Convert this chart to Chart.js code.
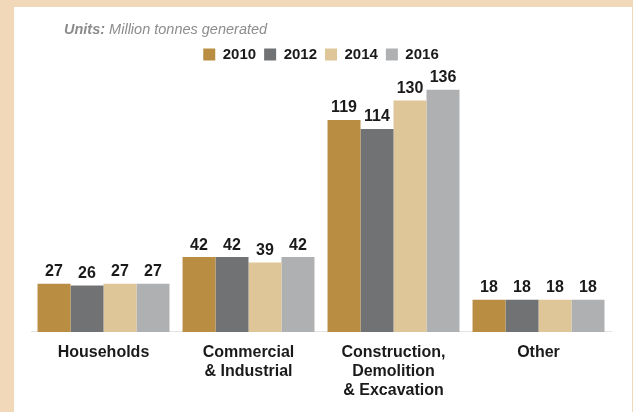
<!DOCTYPE html>
<html>
<head>
<meta charset="utf-8">
<script src="https://cdn.jsdelivr.net/npm/chart.js@4.4.1/dist/chart.umd.min.js"></script>
<style>
  html, body { margin: 0; padding: 0; background: #f0d8b8; }
  #panel {
    position: absolute; left: 14px; top: 7px;
    width: 618px; height: 405px; background: #ffffff;
  }
</style>
</head>
<body>
<div id="panel"><canvas id="myChart" width="618" height="405"></canvas></div>
<script>
// categories (multi-line labels) and values, million tonnes
const categories = [
  ["Households"],
  ["Commercial", "& Industrial"],
  ["Construction,", "Demolition", "& Excavation"],
  ["Other"]
];
const years = ["2010", "2012", "2014", "2016"];
const values2010 = [27, 42, 119, 18];
const values2012 = [26, 42, 114, 18];
const values2014 = [27, 39, 130, 18];
const values2016 = [27, 42, 136, 18];
const colors = ["#b98e43", "#717274", "#dfc698", "#aeb0b2"];

const allValues = [values2010, values2012, values2014, values2016];
const fontFam = "'Liberation Sans', Arial, sans-serif";

// units note at top left
const unitsNote = {
  id: "unitsNote",
  afterDraw(chart) {
    const c = chart.ctx;
    c.save();
    c.fillStyle = "#8c8c8c";
    c.textBaseline = "middle";
    c.font = "italic bold 14.5px " + fontFam;
    c.fillText("Units:", 50, 23);
    const w = c.measureText("Units: ").width;
    c.font = "italic 14.5px " + fontFam;
    c.fillText("Million tonnes generated", 50 + w, 23);
    c.restore();
  }
};

// value labels above each bar
const barLabels = {
  id: "barLabels",
  afterDatasetsDraw(chart) {
    const c = chart.ctx;
    c.save();
    c.fillStyle = "#1a1a1a";
    c.font = "bold 16px " + fontFam;
    c.textAlign = "center";
    c.textBaseline = "bottom";
    chart.data.datasets.forEach((ds, i) => {
      chart.getDatasetMeta(i).data.forEach((bar, j) => {
        c.fillText(ds.data[j], bar.x, bar.y - 4);
      });
    });
    c.restore();
  }
};

new Chart(document.getElementById("myChart"), {
  type: "bar",
  data: {
    labels: categories,
    datasets: years.map((y, i) => ({
      label: y,
      data: allValues[i],
      backgroundColor: colors[i],
      borderWidth: 0,
      categoryPercentage: 0.91,
      barPercentage: 1.0
    }))
  },
  options: {
    responsive: false,
    animation: false,
    layout: { padding: { top: 32, left: 17, right: 21, bottom: 1 } },
    plugins: {
      legend: {
        position: "top",
        labels: {
          boxWidth: 12,
          boxHeight: 12,
          padding: 8,
          color: "#1a1a1a",
          font: { family: fontFam, size: 15, weight: "bold" }
        }
      },
      tooltip: { enabled: false }
    },
    scales: {
      x: {
        grid: { display: true, drawOnChartArea: false, drawTicks: false },
        border: { display: true, color: "#e2e2e2", width: 1 },
        ticks: {
          color: "#1a1a1a",
          padding: 11,
          font: { family: fontFam, size: 16, weight: "bold", lineHeight: 1.19 }
        }
      },
      y: {
        display: false,
        min: 0,
        max: 146
      }
    }
  },
  plugins: [unitsNote, barLabels]
});
</script>
</body>
</html>
